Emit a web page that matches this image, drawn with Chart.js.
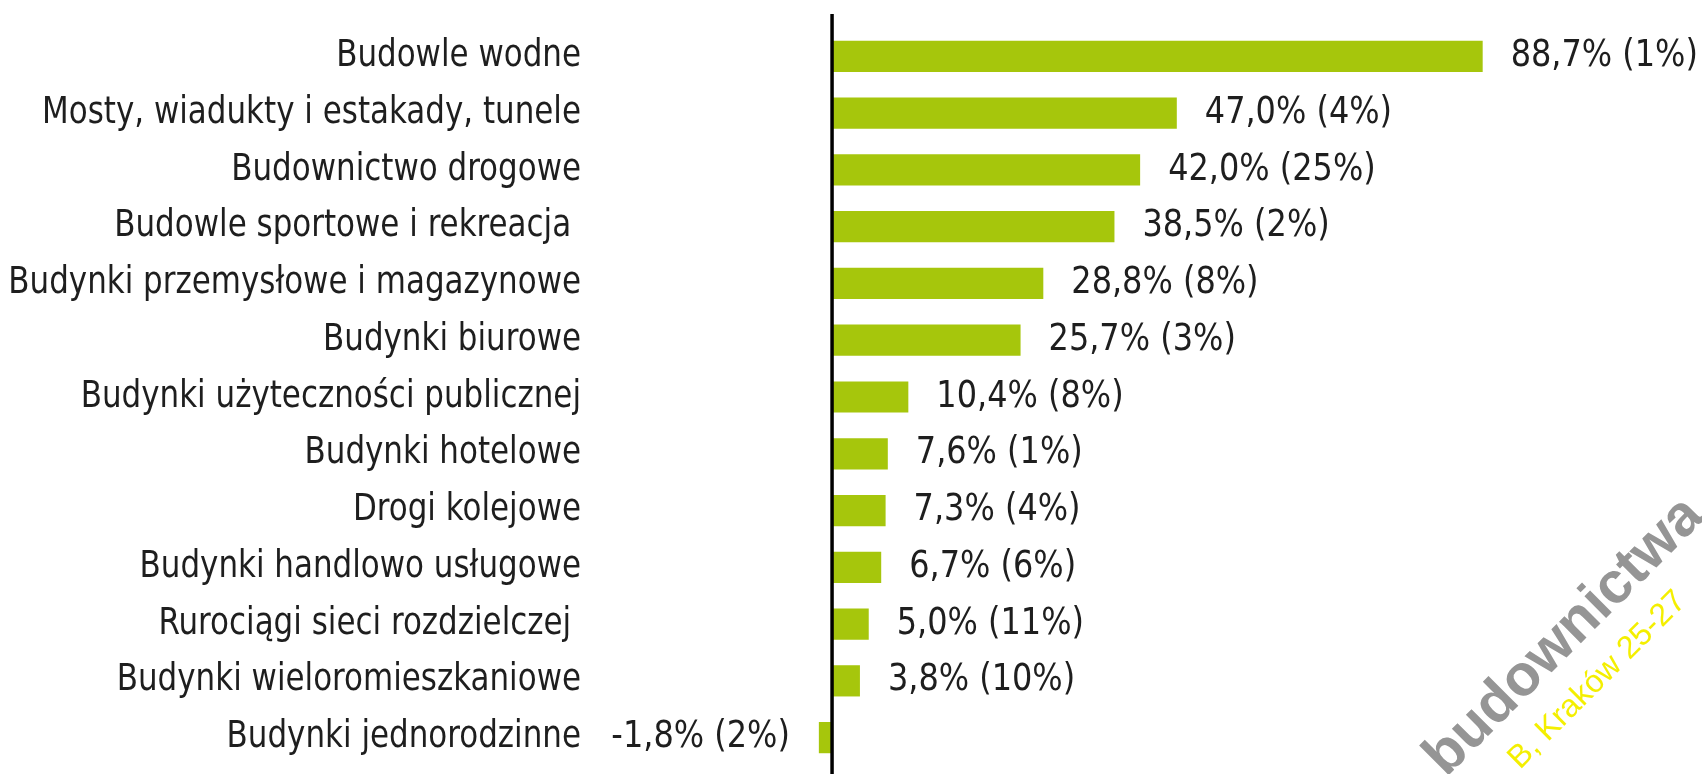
<!DOCTYPE html>
<html>
<head>
<meta charset="utf-8">
<script src="https://cdn.jsdelivr.net/npm/chart.js@4"></script>
<style>
  html, body { margin: 0; padding: 0; background: #fff; }
  #wrap { width: 1702px; height: 774px; position: relative; }
</style>
</head>
<body>
<div id="wrap"><canvas id="chart"></canvas></div>
<script>
// categories (top to bottom)
const categories = [
    'Budowle wodne',
    'Mosty, wiadukty i estakady, tunele',
    'Budownictwo drogowe',
    'Budowle sportowe i rekreacja ',
    'Budynki przemysłowe i magazynowe',
    'Budynki biurowe',
    'Budynki użyteczności publicznej',
    'Budynki hotelowe',
    'Drogi kolejowe',
    'Budynki handlowo usługowe',
    'Rurociągi sieci rozdzielczej ',
    'Budynki wieloromieszkaniowe',
    'Budynki jednorodzinne'
];
// growth in % and share in brackets
const growth = [88.7, 47.0, 42.0, 38.5, 28.8, 25.7, 10.4, 7.6, 7.3, 6.7, 5.0, 3.8, -1.8];
const share = [1, 4, 25, 2, 8, 3, 8, 1, 4, 6, 11, 10, 2];

const FONT = "'DejaVu Sans Condensed', 'Liberation Sans Narrow', sans-serif";
const TEXT = '#1e1e1e';
const GREEN = '#a6c60c';

function fmt(v, s) {
    return v.toFixed(1).replace('.', ',') + '% (' + s + '%)';
}

// draw text squeezed horizontally (original font is a narrow one)
function squeezed(ctx, txt, x, y, sx, align) {
    ctx.save();
    ctx.translate(x, y);
    ctx.scale(sx, 1);
    ctx.textAlign = align;
    ctx.fillText(txt, 0, 0);
    ctx.restore();
}

// category names left of the axis
const catLabels = {
    id: 'catLabels',
    afterDraw(chart) {
        const ctx = chart.ctx;
        const y = chart.scales.y;
        ctx.save();
        ctx.font = '37px ' + FONT;
        ctx.fillStyle = TEXT;
        ctx.textBaseline = 'middle';
        categories.forEach((c, i) => {
            squeezed(ctx, c, chart.chartArea.left - 9, y.getPixelForTick(i), 0.93, 'right');
        });
        ctx.restore();
    }
};

// black line at zero
const zeroLine = {
    id: 'zeroLine',
    afterDatasetsDraw(chart) {
        const ctx = chart.ctx;
        const x = chart.scales.x.getPixelForValue(0);
        ctx.save();
        ctx.strokeStyle = '#000';
        ctx.lineWidth = 3.5;
        ctx.beginPath();
        ctx.moveTo(x, chart.chartArea.top - 14);
        ctx.lineTo(x, chart.height);
        ctx.stroke();
        ctx.restore();
    }
};

// value labels next to bars
const valueLabels = {
    id: 'valueLabels',
    afterDatasetsDraw(chart) {
        const ctx = chart.ctx;
        const meta = chart.getDatasetMeta(0);
        ctx.save();
        ctx.font = '37px ' + FONT;
        ctx.fillStyle = TEXT;
        ctx.textBaseline = 'middle';
        meta.data.forEach((bar, i) => {
            const v = growth[i];
            const txt = fmt(v, share[i]);
            if (v >= 0) {
                squeezed(ctx, txt, bar.x + 28, bar.y, 0.96, 'left');
            } else {
                squeezed(ctx, txt, bar.x - 29, bar.y, 0.96, 'right');
            }
        });
        ctx.restore();
    }
};

// watermark in the corner
const watermark = {
    id: 'watermark',
    afterDraw(chart) {
        const ctx = chart.ctx;
        ctx.save();
        ctx.translate(1446, 778);
        ctx.rotate(-Math.PI / 4);
        ctx.font = 'bold 58px "Liberation Sans", sans-serif';
        ctx.fillStyle = '#959595';
        ctx.fillText('budownictwa', 0, 0);
        ctx.restore();

        ctx.save();
        ctx.translate(1520, 770);
        ctx.rotate(-Math.PI / 4);
        ctx.font = '32px "Liberation Sans", sans-serif';
        ctx.fillStyle = '#f4ef00';
        ctx.fillText('B, Kraków 25-27', 0, 0);
        ctx.restore();
    }
};

new Chart(document.getElementById('chart').getContext('2d'), {
    type: 'bar',
    data: {
        labels: categories,
        datasets: [{
            data: growth,
            backgroundColor: GREEN,
            borderWidth: 0,
            barPercentage: 0.55,
            categoryPercentage: 1
        }]
    },
    options: {
        indexAxis: 'y',
        responsive: true,
        maintainAspectRatio: false,
        animation: false,
        layout: { padding: { top: 28, bottom: 8, left: 0, right: 0 } },
        plugins: {
            legend: { display: false },
            tooltip: { enabled: false }
        },
        scales: {
            x: {
                display: false,
                min: -33,
                max: 118.6
            },
            y: {
                grid: { display: false, drawTicks: false },
                border: { display: false },
                ticks: { display: false, autoSkip: false },
                afterFit(scale) {
                    scale.width = 590;
                    scale.paddingTop = 0;
                    scale.paddingBottom = 0;
                }
            }
        }
    },
    plugins: [zeroLine, valueLabels, catLabels, watermark]
});
</script>
</body>
</html>
